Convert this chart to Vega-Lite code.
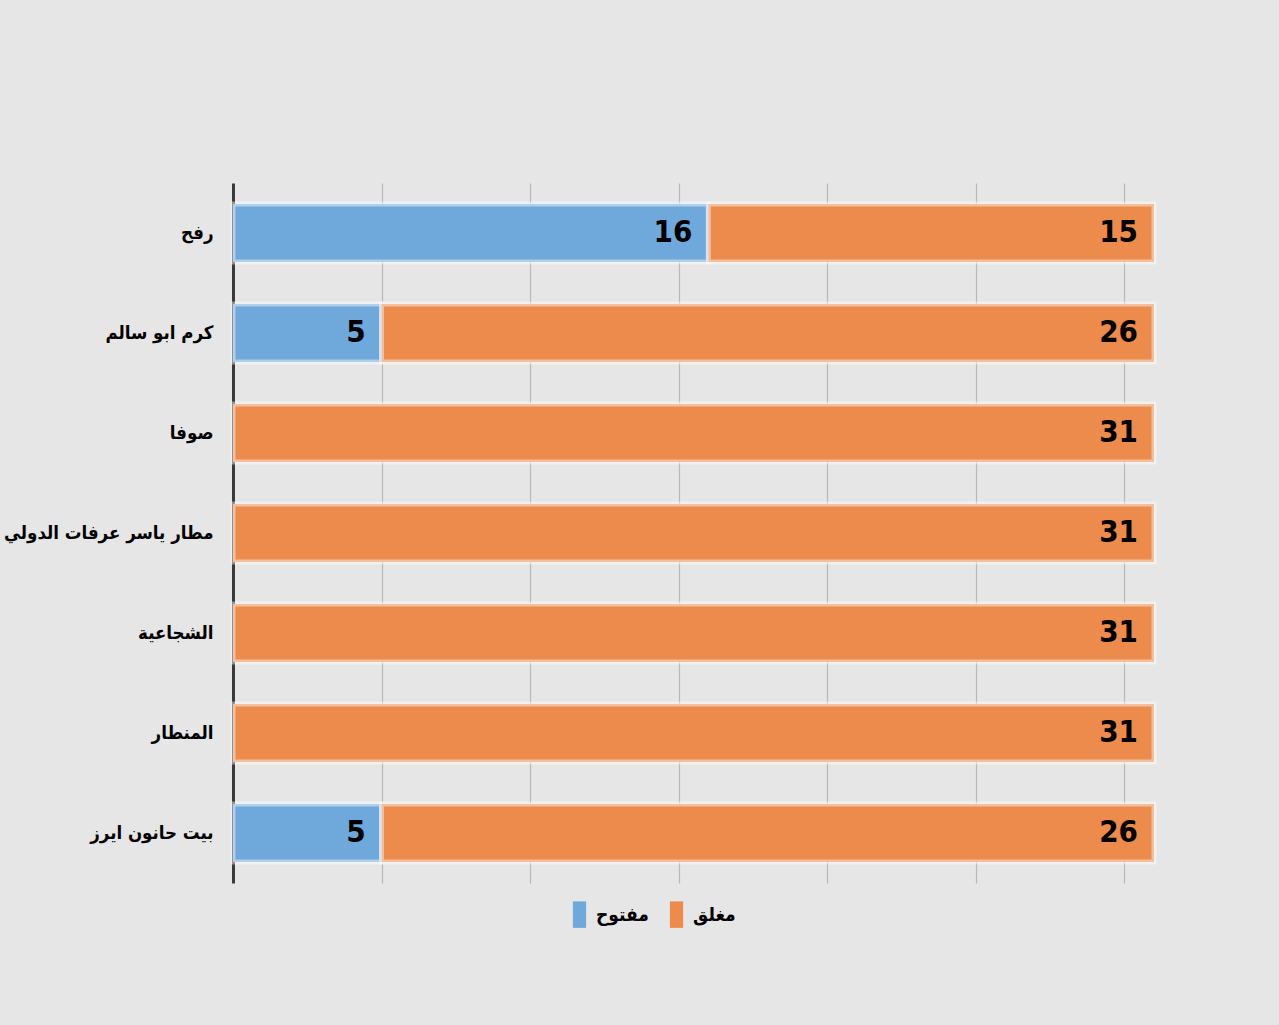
{
  "$schema": "https://vega.github.io/schema/vega-lite/v6.json",
  "autosize": {"type": "none"},
  "width": 921,
  "height": 700,
  "padding": {"left": 233, "top": 183, "right": 125, "bottom": 142},
  "background": "#e6e6e6",
  "config": {
    "view": {"stroke": null},
    "font": "DejaVu Sans Condensed"
  },
  "data": {
    "values": [
      {"site": "رفح", "status": "مفتوح", "count": 16},
      {"site": "رفح", "status": "مغلق", "count": 15},
      {"site": "كرم ابو سالم", "status": "مفتوح", "count": 5},
      {"site": "كرم ابو سالم", "status": "مغلق", "count": 26},
      {"site": "صوفا", "status": "مغلق", "count": 31},
      {"site": "مطار ياسر عرفات الدولي", "status": "مغلق", "count": 31},
      {"site": "الشجاعية", "status": "مغلق", "count": 31},
      {"site": "المنطار", "status": "مغلق", "count": 31},
      {"site": "بيت حانون ايرز", "status": "مفتوح", "count": 5},
      {"site": "بيت حانون ايرز", "status": "مغلق", "count": 26}
    ]
  },
  "encoding": {
    "y": {
      "field": "site",
      "type": "nominal",
      "sort": null,
      "scale": {"paddingInner": 0.42, "paddingOuter": 0.21},
      "axis": {
        "title": null,
        "ticks": false,
        "domainColor": "#3a3a3a",
        "domainWidth": 3,
        "labelFont": "DejaVu Sans Condensed",
        "labelFontSize": 18.5,
        "labelFontWeight": "bold",
        "labelColor": "#000000",
        "labelPadding": 20,
        "labelLimit": 300
      }
    },
    "x": {
      "field": "count",
      "type": "quantitative",
      "stack": "zero",
      "scale": {"domain": [0, 31], "nice": false, "zero": true},
      "axis": {
        "title": null,
        "labels": false,
        "ticks": false,
        "domain": false,
        "values": [5, 10, 15, 20, 25, 30],
        "gridColor": "#b8b8b8",
        "gridWidth": 1.2
      }
    },
    "order": {"field": "status", "sort": "descending"}
  },
  "layer": [
    {
      "mark": {"type": "bar", "stroke": "#ffffff", "strokeOpacity": 0.45, "strokeWidth": 5},
      "encoding": {
        "color": {
          "field": "status",
          "type": "nominal",
          "scale": {"domain": ["مفتوح", "مغلق"], "range": ["#6fa8da", "#ec8b4c"]},
          "legend": {
            "title": null,
            "orient": "none",
            "legendX": 333,
            "legendY": 718,
            "direction": "horizontal",
            "symbolType": "M-0.5,-1L0.5,-1L0.5,1L-0.5,1Z",
            "symbolSize": 700,
            "symbolStrokeWidth": 0,
            "labelFont": "DejaVu Sans Condensed",
            "labelFontSize": 19,
            "labelFontWeight": "bold",
            "labelColor": "#000000",
            "columnPadding": 14,
            "labelOffset": 3
          }
        }
      }
    },
    {
      "mark": {
        "type": "text",
        "align": "right",
        "baseline": "middle",
        "dx": -16,
        "font": "DejaVu Sans Condensed",
        "fontSize": 31,
        "fontWeight": "bold",
        "color": "#000000"
      },
      "encoding": {
        "text": {"field": "count", "type": "quantitative"}
      }
    }
  ]
}
